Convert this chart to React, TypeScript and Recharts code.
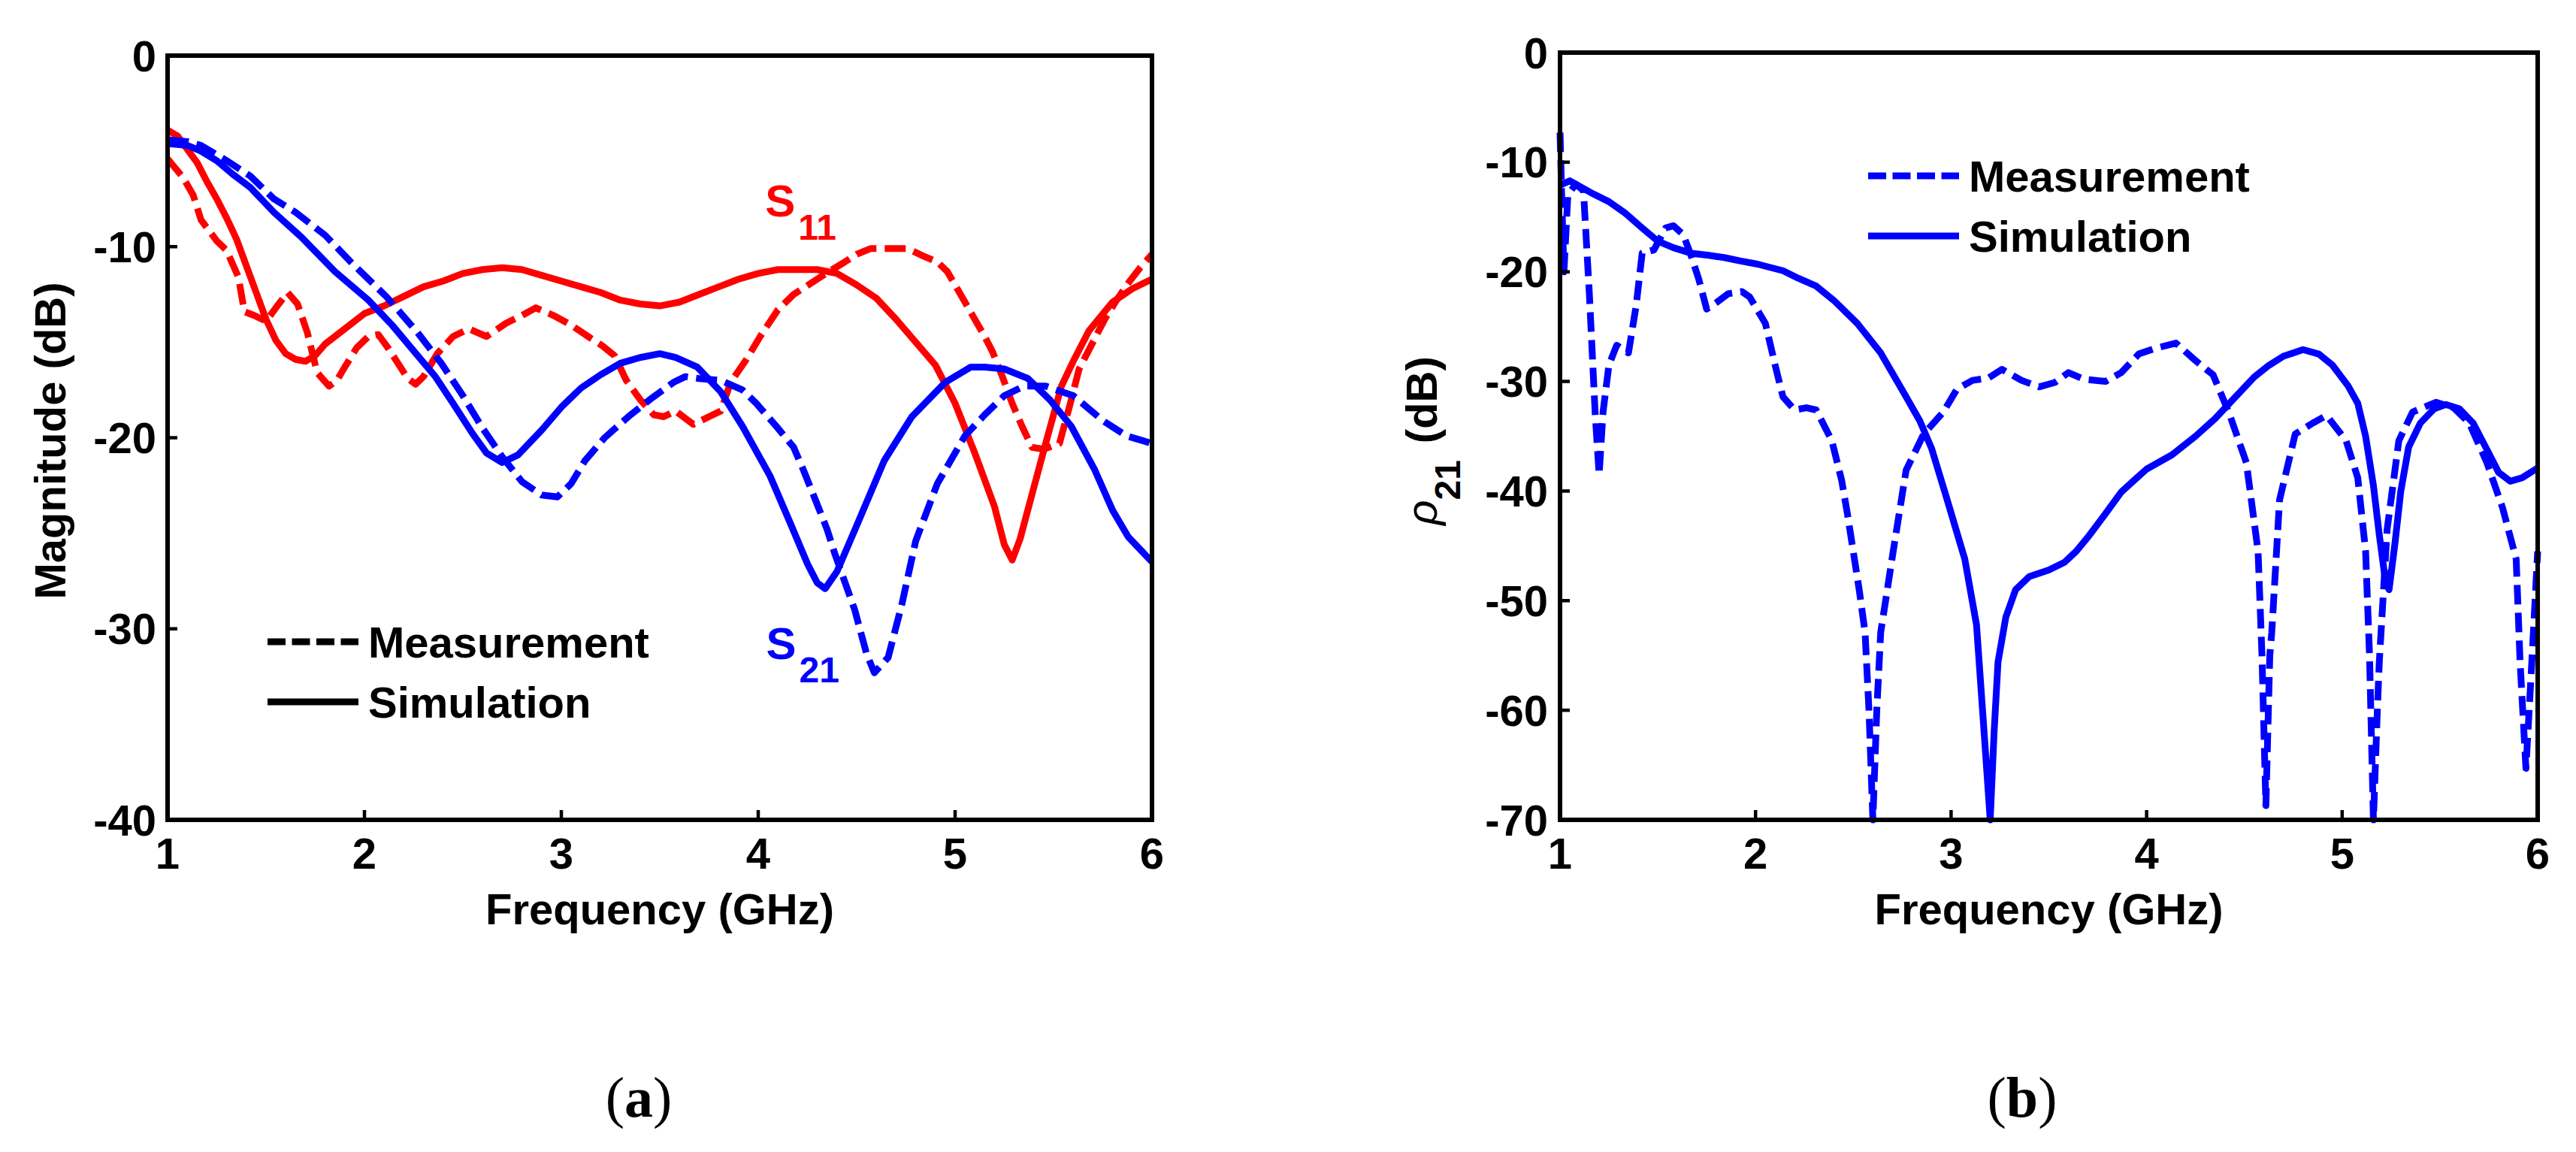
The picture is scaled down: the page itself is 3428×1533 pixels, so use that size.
import React from "react";
import { LineChart, Line, XAxis, YAxis, Legend, ReferenceDot } from "recharts";

const FONT = "'Liberation Sans', Arial, Helvetica, sans-serif";
const RED = "#ff0000";
const BLUE = "#0000ff";

const freqTicks = [1, 2, 3, 4, 5, 6];
const magTicks = [-40, -30, -20, -10, 0];
const rhoTicks = [-70, -60, -50, -40, -30, -20, -10, 0];

// panel (a): [GHz, dB]
const s11Sim = [
  [1.0, -3.9], [1.05, -4.2], [1.1, -4.9], [1.15, -5.6], [1.2, -6.6], [1.25, -7.5], [1.3, -8.5],
  [1.35, -9.6], [1.4, -11.0], [1.45, -12.4], [1.5, -13.8], [1.55, -14.9], [1.6, -15.6], [1.65, -15.9],
  [1.7, -16.0], [1.75, -15.7], [1.8, -15.1], [1.9, -14.3], [2.0, -13.5], [2.1, -13.1], [2.2, -12.6],
  [2.3, -12.1], [2.4, -11.8], [2.5, -11.4], [2.6, -11.2], [2.7, -11.1], [2.8, -11.2], [2.9, -11.5],
  [3.0, -11.8], [3.1, -12.1], [3.2, -12.4], [3.3, -12.8], [3.4, -13.0], [3.5, -13.1], [3.6, -12.9],
  [3.7, -12.5], [3.8, -12.1], [3.9, -11.7], [4.0, -11.4], [4.1, -11.2], [4.2, -11.2], [4.3, -11.2],
  [4.4, -11.4], [4.5, -12.0], [4.6, -12.7], [4.7, -13.8], [4.8, -15.0], [4.9, -16.2], [5.0, -18.2],
  [5.1, -20.8], [5.2, -23.6], [5.25, -25.6], [5.29, -26.4], [5.33, -25.3], [5.4, -22.6], [5.46, -20.3],
  [5.54, -17.3], [5.6, -16.0], [5.68, -14.4], [5.8, -12.9], [5.9, -12.2], [6.0, -11.7],
];

const s11Meas = [
  [1.0, -5.4], [1.04, -5.9], [1.08, -6.4], [1.13, -7.3], [1.17, -8.6], [1.25, -9.7], [1.3, -10.2],
  [1.36, -11.6], [1.39, -13.4], [1.44, -13.6], [1.5, -13.9], [1.55, -13.2], [1.61, -12.4], [1.66, -13.0],
  [1.71, -14.5], [1.76, -16.6], [1.82, -17.3], [1.86, -17.0], [1.9, -16.3], [1.96, -15.3], [2.02, -14.7],
  [2.07, -14.6], [2.12, -15.3], [2.17, -16.1], [2.22, -16.9], [2.26, -17.2], [2.3, -16.8], [2.37, -15.6],
  [2.45, -14.7], [2.53, -14.3], [2.62, -14.7], [2.72, -14.0], [2.8, -13.6], [2.87, -13.2], [2.96, -13.6],
  [3.05, -14.1], [3.15, -14.8], [3.21, -15.2], [3.27, -15.7], [3.33, -17.0], [3.4, -18.0], [3.47, -18.8],
  [3.52, -18.9], [3.58, -18.6], [3.67, -19.3], [3.75, -18.9], [3.81, -18.6], [3.86, -17.1], [3.94, -15.9],
  [4.01, -14.7], [4.1, -13.3], [4.18, -12.5], [4.27, -11.9], [4.36, -11.3], [4.44, -10.8], [4.5, -10.4],
  [4.57, -10.1], [4.66, -10.1], [4.76, -10.1], [4.84, -10.5], [4.91, -10.8], [4.96, -11.3], [5.0, -12.0],
  [5.05, -12.9], [5.1, -13.8], [5.15, -14.7], [5.19, -15.5], [5.24, -16.8], [5.29, -18.2], [5.34, -19.4],
  [5.39, -20.5], [5.45, -20.6], [5.53, -20.3], [5.58, -18.4], [5.63, -16.4], [5.7, -15.0], [5.76, -13.8],
  [5.82, -12.8], [5.88, -11.9], [5.94, -11.1], [6.0, -10.4],
];

const s21Sim = [
  [1.0, -4.6], [1.1, -4.7], [1.17, -5.0], [1.25, -5.5], [1.33, -6.2], [1.42, -6.9], [1.54, -8.2],
  [1.68, -9.5], [1.85, -11.3], [2.02, -12.8], [2.14, -14.1], [2.27, -15.7], [2.36, -16.8], [2.45, -18.2],
  [2.55, -19.8], [2.62, -20.8], [2.7, -21.3], [2.78, -20.9], [2.9, -19.6], [3.0, -18.4], [3.1, -17.4],
  [3.2, -16.7], [3.3, -16.1], [3.4, -15.8], [3.5, -15.6], [3.58, -15.8], [3.69, -16.3], [3.81, -17.6],
  [3.92, -19.4], [4.06, -22.0], [4.16, -24.4], [4.25, -26.6], [4.3, -27.6], [4.34, -27.9], [4.4, -27.0],
  [4.5, -24.6], [4.64, -21.2], [4.78, -18.9], [4.95, -17.1], [5.08, -16.3], [5.15, -16.3], [5.25, -16.4],
  [5.37, -16.9], [5.48, -18.0], [5.59, -19.4], [5.71, -21.7], [5.8, -23.8], [5.88, -25.2], [6.0, -26.5],
];

const s21Meas = [
  [1.0, -4.4], [1.1, -4.5], [1.17, -4.7], [1.3, -5.5], [1.42, -6.3], [1.54, -7.5], [1.65, -8.2],
  [1.8, -9.4], [1.94, -10.9], [2.11, -12.6], [2.27, -14.5], [2.39, -16.1], [2.5, -17.8], [2.6, -19.5],
  [2.7, -21.0], [2.8, -22.3], [2.9, -23.0], [2.98, -23.1], [3.05, -22.4], [3.12, -21.2], [3.22, -20.0],
  [3.34, -18.9], [3.45, -18.0], [3.57, -17.1], [3.63, -16.8], [3.7, -16.9], [3.81, -17.0], [3.92, -17.5],
  [3.99, -18.2], [4.1, -19.5], [4.18, -20.5], [4.23, -21.7], [4.3, -23.5], [4.35, -24.8], [4.39, -26.1],
  [4.49, -29.0], [4.55, -31.3], [4.59, -32.3], [4.66, -31.5], [4.73, -28.7], [4.8, -25.4], [4.91, -22.4],
  [5.05, -19.9], [5.15, -18.8], [5.25, -17.8], [5.35, -17.3], [5.46, -17.3], [5.6, -17.8], [5.75, -19.1],
  [5.87, -19.9], [6.0, -20.3],
];

// panel (b): rho21 [GHz, dB]
const rhoSim = [
  [1.0, -12.1], [1.05, -11.7], [1.1, -12.2], [1.16, -12.8], [1.25, -13.6], [1.33, -14.6], [1.42, -16.0],
  [1.5, -17.2], [1.58, -17.8], [1.67, -18.3], [1.76, -18.5], [1.84, -18.7], [1.92, -19.0], [2.01, -19.3],
  [2.14, -19.9], [2.22, -20.6], [2.31, -21.3], [2.4, -22.6], [2.52, -24.7], [2.64, -27.4], [2.77, -31.4],
  [2.84, -33.6], [2.9, -36.1], [2.98, -40.8], [3.07, -46.2], [3.13, -52.2], [3.17, -62.3], [3.2, -70.0],
  [3.22, -62.0], [3.24, -55.6], [3.28, -51.5], [3.33, -49.0], [3.4, -47.8], [3.5, -47.2], [3.58, -46.5],
  [3.64, -45.5], [3.7, -44.2], [3.78, -42.3], [3.87, -40.1], [3.95, -38.8], [4.0, -38.0], [4.13, -36.7],
  [4.25, -35.0], [4.35, -33.4], [4.45, -31.5], [4.55, -29.6], [4.62, -28.6], [4.7, -27.7], [4.8, -27.1],
  [4.88, -27.5], [4.95, -28.5], [5.03, -30.4], [5.08, -32.0], [5.12, -35.0], [5.16, -39.5], [5.19, -44.0],
  [5.22, -48.0], [5.24, -49.0], [5.27, -44.8], [5.3, -40.0], [5.34, -36.0], [5.4, -33.8], [5.47, -32.5],
  [5.53, -32.1], [5.6, -32.5], [5.67, -33.8], [5.74, -36.2], [5.8, -38.3], [5.86, -39.1], [5.92, -38.8],
  [6.0, -37.9],
];

const rhoMeas = [
  [1.0, -7.3], [1.01, -14.0], [1.02, -20.0], [1.04, -13.0], [1.08, -12.0], [1.12, -12.6], [1.15, -22.0],
  [1.18, -33.0], [1.2, -38.5], [1.22, -32.8], [1.25, -28.5], [1.29, -26.7], [1.35, -27.4], [1.39, -23.0],
  [1.42, -18.3], [1.48, -18.0], [1.54, -16.0], [1.58, -15.8], [1.63, -16.6], [1.67, -18.5], [1.71, -20.7],
  [1.75, -23.4], [1.8, -22.8], [1.86, -22.0], [1.93, -21.8], [1.97, -22.3], [2.05, -24.7], [2.1, -28.5],
  [2.14, -31.4], [2.2, -32.6], [2.26, -32.4], [2.31, -32.6], [2.39, -35.4], [2.44, -39.0], [2.47, -42.1],
  [2.53, -49.0], [2.56, -52.9], [2.58, -60.0], [2.6, -70.0], [2.62, -60.0], [2.64, -52.9], [2.71, -44.8],
  [2.77, -38.1], [2.86, -34.8], [2.96, -32.8], [3.03, -30.7], [3.11, -29.9], [3.19, -29.7], [3.26, -28.9],
  [3.36, -29.9], [3.45, -30.5], [3.53, -30.1], [3.6, -29.2], [3.68, -29.8], [3.79, -30.0], [3.87, -29.2],
  [3.96, -27.5], [4.04, -27.0], [4.15, -26.5], [4.25, -28.1], [4.34, -29.4], [4.42, -32.8], [4.51, -37.4],
  [4.57, -45.5], [4.59, -55.0], [4.61, -68.7], [4.63, -55.0], [4.64, -52.9], [4.68, -40.8], [4.76, -34.8],
  [4.85, -33.8], [4.92, -33.1], [5.02, -35.4], [5.08, -38.8], [5.12, -45.5], [5.14, -55.0], [5.16, -70.0],
  [5.18, -60.0], [5.19, -55.6], [5.23, -43.5], [5.29, -35.4], [5.36, -32.8], [5.48, -31.9], [5.57, -32.4],
  [5.65, -33.8], [5.74, -37.4], [5.82, -41.5], [5.89, -46.2], [5.91, -55.6], [5.94, -65.3], [5.97, -55.6],
  [6.0, -45.5],
];

const toRows = (pts: number[][]) => pts.map(([f, db]) => ({ f, db }));

const tickStyle = { fill: "#000", fontSize: 58, fontWeight: 700, fontFamily: FONT };
const axisLine = { stroke: "#000", strokeWidth: 6, strokeLinecap: "square" as const };
const tickLine = { stroke: "#000", strokeWidth: 4.5 };
const textProps = { fill: "#000", fontSize: 58, fontWeight: 700, fontFamily: FONT };

const xTitle = (props: any) => {
  const vb = props.viewBox;
  return (
    <text x={vb.x + vb.width / 2} y={vb.y + 139} textAnchor="middle" {...textProps}>
      Frequency (GHz)
    </text>
  );
};

const magTitle = (props: any) => {
  const vb = props.viewBox;
  const cy = vb.y + vb.height / 2 + 4;
  return (
    <text transform={`translate(${vb.x + 64},${cy}) rotate(-90)`} textAnchor="middle" {...textProps}>
      Magnitude (dB)
    </text>
  );
};

const rhoTitle = (props: any) => {
  const vb = props.viewBox;
  const cy = vb.y + vb.height / 2 + 6;
  return (
    <text transform={`translate(${vb.x + 36},${cy}) rotate(-90)`} textAnchor="middle" {...textProps}>
      <tspan fontStyle="italic" fontWeight={400}>ρ</tspan>
      <tspan dy={31} fontSize={48}>21</tspan>
      <tspan dy={-31} dx={22}>(dB)</tspan>
    </text>
  );
};

const subLabel = (main: string, sub: string, color: string) => (props: any) => {
  const vb = props.viewBox;
  return (
    <text x={vb.x} y={vb.y} fill={color} fontSize={60} fontWeight={700} fontFamily={FONT}>
      <tspan>{main}</tspan>
      <tspan dx={4} dy={31} fontSize={48}>{sub}</tspan>
    </text>
  );
};

const legendBox = (color: string) => () => (
  <svg width={620} height={180} style={{ overflow: "visible" }}>
    <line x1={16} x2={137} y1={54} y2={54} stroke={color} strokeWidth={9} strokeDasharray="24 8.5" />
    <line x1={16} x2={137} y1={134} y2={134} stroke={color} strokeWidth={9} />
    <text x={150} y={75} {...textProps}>Measurement</text>
    <text x={150} y={155} {...textProps}>Simulation</text>
  </svg>
);

const frameAxes = (yDomain: number[], yTicks: number[], leftW: number, title: any, tm: number) => [
  <XAxis key="xb" xAxisId="b" dataKey="f" type="number" domain={[1, 6]} ticks={freqTicks} interval={0}
    height={150} tickSize={-13} tickMargin={37} tick={tickStyle} axisLine={axisLine} tickLine={tickLine}
    label={xTitle} />,
  <XAxis key="xt" xAxisId="t" orientation="top" dataKey="f" type="number" domain={[1, 6]} ticks={freqTicks}
    height={20} tickSize={-13} tick={false} axisLine={axisLine} tickLine={tickLine} />,
  <YAxis key="yl" yAxisId="l" type="number" domain={yDomain} ticks={yTicks} interval={0} width={leftW}
    tickSize={-13} tickMargin={tm} tick={tickStyle} axisLine={axisLine} tickLine={tickLine} label={title} />,
  <YAxis key="yr" yAxisId="r" orientation="right" type="number" domain={yDomain} ticks={yTicks} width={20}
    tickSize={-13} tick={false} axisLine={axisLine} tickLine={tickLine} />,
];

const series = (pts: number[][], color: string, dashed: boolean, dash: string) => (
  <Line xAxisId="b" yAxisId="l" data={toRows(pts)} dataKey="db" type="linear" stroke={color}
    strokeWidth={9} strokeLinejoin="round" strokeDasharray={dashed ? dash : undefined}
    dot={false} activeDot={false} isAnimationActive={false} />
);

const caption = (letter: string, left: number) => (
  <div style={{
    position: "absolute", left, top: 1460, transform: "translate(-50%, -50%)",
    fontFamily: "'Liberation Serif', 'Times New Roman', serif", fontSize: 76, color: "#000", lineHeight: 1,
  }}>
    (<b>{letter}</b>)
  </div>
);

export default function App() {
  return (
    <div style={{ position: "absolute", left: 0, top: 0, width: 3428, height: 1533, background: "#fff", overflow: "hidden" }}>
      <div style={{ position: "absolute", left: 0, top: 0 }}>
        <LineChart width={1650} height={1300} margin={{ top: 54, right: 97, bottom: 59, left: 23 }}>
          {frameAxes([-40, 0], magTicks, 200, magTitle, 28)}
          {series(s11Sim, RED, false, "")}
          {series(s11Meas, RED, true, "28 11")}
          {series(s21Sim, BLUE, false, "")}
          {series(s21Meas, BLUE, true, "28 11")}
          <ReferenceDot xAxisId="b" yAxisId="l" x={4.035} y={-8.4} r={0} fill="none" stroke="none"
            label={subLabel("S", "11", RED)} />
          <ReferenceDot xAxisId="b" yAxisId="l" x={4.04} y={-31.6} r={0} fill="none" stroke="none"
            label={subLabel("S", "21", BLUE)} />
          <Legend layout="horizontal" verticalAlign="middle" align="center"
            wrapperStyle={{ left: 340, top: 800, width: 620, height: 180 }} content={legendBox("#000")} />
        </LineChart>
      </div>
      <div style={{ position: "absolute", left: 1720, top: 0 }}>
        <LineChart width={1708} height={1300} margin={{ top: 50, right: 31, bottom: 59, left: 156 }}>
          {frameAxes([-70, 0], rhoTicks, 200, rhoTitle, 29)}
          {series(rhoMeas, BLUE, true, "26 11")}
          {series(rhoSim, BLUE, false, "")}
          <Legend layout="horizontal" verticalAlign="middle" align="center"
            wrapperStyle={{ left: 750, top: 180, width: 620, height: 180 }} content={legendBox(BLUE)} />
        </LineChart>
      </div>
      {caption("a", 850)}
      {caption("b", 2691)}
    </div>
  );
}
